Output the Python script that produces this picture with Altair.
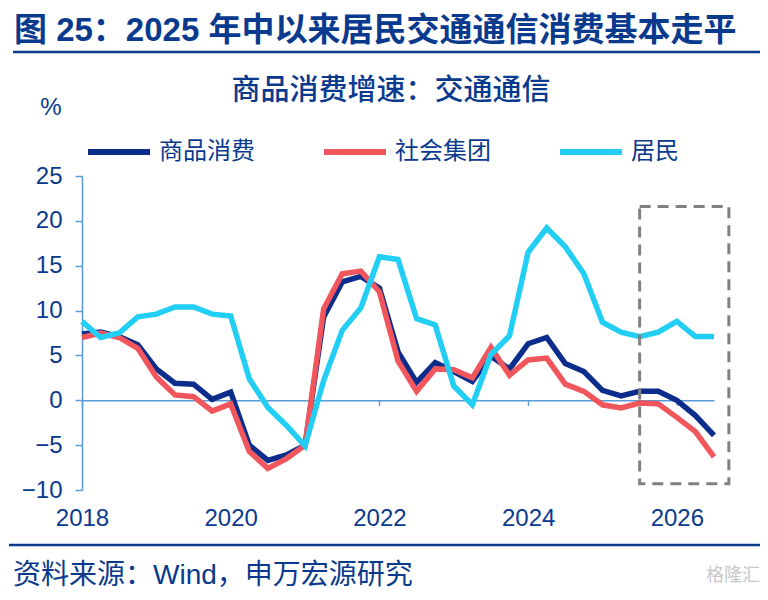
import altair as alt
import pandas as pd

# ---------------- data ----------------
periods = [
    "2018Q1", "2018Q2", "2018Q3", "2018Q4",
    "2019Q1", "2019Q2", "2019Q3", "2019Q4",
    "2020Q1", "2020Q2", "2020Q3", "2020Q4",
    "2021Q1", "2021Q2", "2021Q3", "2021Q4",
    "2022Q1", "2022Q2", "2022Q3", "2022Q4",
    "2023Q1", "2023Q2", "2023Q3", "2023Q4",
    "2024Q1", "2024Q2", "2024Q3", "2024Q4",
    "2025Q1", "2025Q2", "2025Q3", "2025Q4",
    "2026Q1", "2026Q2", "2026Q3",
]
goods = [7.4, 7.6, 7.1, 6.2, 3.5, 1.9, 1.8, 0.1, 0.9, -5.0, -6.7, -6.1, -5.0,
         9.3, 13.2, 13.8, 12.5, 5.4, 2.0, 4.2, 3.2, 2.1, 4.9, 3.5,
         6.3, 7.0, 4.1, 3.2, 1.1, 0.5, 1.0, 1.0, 0.0, -1.7, -3.9]
group = [7.0, 7.5, 7.0, 5.8, 2.6, 0.6, 0.4, -1.2, -0.4, -5.7, -7.6, -6.5, -5.0,
         10.2, 14.1, 14.4, 12.1, 4.4, 1.0, 3.5, 3.4, 2.5, 5.9, 2.8,
         4.5, 4.7, 1.8, 1.0, -0.5, -0.85, -0.3, -0.4, -1.9, -3.5, -6.3]
household = [8.8, 7.0, 7.5, 9.3, 9.6, 10.4, 10.4, 9.6, 9.4, 2.4, -0.8, -2.8, -5.1,
             2.2, 7.8, 10.3, 16.0, 15.7, 9.1, 8.4, 1.6, -0.5, 5.1, 7.2,
             16.5, 19.2, 17.1, 14.1, 8.7, 7.6, 7.1, 7.6, 8.8, 7.1, 7.1]
series_names = ["商品消费", "社会集团", "居民"]
series_colors = ["#0C2D8C", "#F0565C", "#22CEF4"]
year_ticks = [2018, 2020, 2022, 2024, 2026]
y_ticks = [-10, -5, 0, 5, 10, 15, 20, 25]
box_x = [2025.5, 2026.7]
box_y = [-9.3, 21.6]

title_text = "图 25：2025 年中以来居民交通通信消费基本走平"
subtitle_text = "商品消费增速：交通通信"
unit_text = "%"
source_text = "资料来源：Wind，申万宏源研究"
mark_text_wm = "格隆汇"

# ---------------- build table ----------------
xs = [int(p[:4]) + (int(p[5]) - 1) / 4 for p in periods]
rows = []
for name, vals in zip(series_names, [goods, group, household]):
    for x, v in zip(xs, vals):
        rows.append({"x": x, "v": v, "s": name})
df = pd.DataFrame(rows)

TEXT_C = "#0A3A8E"
AXIS_C = "#5B9BD5"
CJK = "Noto Sans CJK SC"
MIX = "Liberation Sans, Noto Sans CJK SC"

W, H = 632, 314

xscale = alt.Scale(domain=[2018, 2026.5], nice=False, zero=False)
yscale = alt.Scale(domain=[-10, 25], nice=False, zero=False)

x_enc = alt.X("x:Q", scale=xscale, axis=alt.Axis(
    values=year_ticks, format="d", title=None, grid=False, labelFlush=False,
    offset=-(H * 10 / 35), domainColor=AXIS_C, domainWidth=1.5,
    tickColor=AXIS_C, tickWidth=1.5, tickSize=5,
    labelPadding=101, labelFontSize=24, labelColor=TEXT_C,
    labelFont="Liberation Sans"))
y_enc = alt.Y("v:Q", scale=yscale, axis=alt.Axis(
    values=y_ticks, title=None, grid=False, labelFlush=False,
    domainColor=AXIS_C, domainWidth=1.5, tickColor=AXIS_C, tickWidth=1.5,
    tickSize=7, labelPadding=13, labelFontSize=24, labelColor=TEXT_C,
    labelFont="Liberation Sans"))
color_enc = alt.Color("s:N", scale=alt.Scale(domain=series_names, range=series_colors),
                      legend=alt.Legend(
                          orient="none", legendX=3, legendY=-58, direction="horizontal",
                          title=None, symbolType="stroke", symbolSize=3844,
                          symbolStrokeWidth=6, labelFontSize=24, labelFont=CJK,
                          labelColor=TEXT_C, labelOffset=6, columnPadding=57,
                          padding=0, labelLimit=300))

base = alt.Chart(df)
lines = [
    base.transform_filter(alt.datum.s == name)
    .mark_line(strokeWidth=5.5)
    .encode(x=x_enc, y=y_enc, color=color_enc)
    for name in series_names
]

box_df = pd.DataFrame({"x1": [box_x[0]], "x2": [box_x[1]], "y1": [box_y[0]], "y2": [box_y[1]]})
box = alt.Chart(box_df).mark_rect(
    fill="transparent", stroke="#808080", strokeWidth=3, strokeDash=[11, 7]
).encode(x=alt.X("x1:Q", scale=xscale), x2="x2:Q",
         y=alt.Y("y1:Q", scale=yscale), y2="y2:Q")


def text_layer(txt, x, y, size, font, weight="normal", align="left", color=TEXT_C):
    return alt.Chart(pd.DataFrame({"t": [txt]})).mark_text(
        align=align, baseline="middle", fontSize=size, font=font,
        fontWeight=weight, color=color
    ).encode(text="t:N", x=alt.value(x), y=alt.value(y))


title = text_layer(title_text, -68, -145, 33, MIX, weight="bold")
subtitle = text_layer(subtitle_text, 309, -85, 29, MIX, weight=500, align="center")
unit = text_layer(unit_text, -31, -68, 24, "Liberation Sans", align="center")
source = text_layer(source_text, -69, 400, 28, MIX)
wm = text_layer(mark_text_wm, 678, 400, 18, CJK, align="right", color="#c8c8c8")

rule_df = pd.DataFrame({"k": [0]})
top_rule = alt.Chart(rule_df).mark_rule(color=TEXT_C, strokeWidth=2.5).encode(
    x=alt.value(-69), x2=alt.value(690), y=alt.value(-124))
bottom_rule = alt.Chart(rule_df).mark_rule(color=TEXT_C, strokeWidth=2.5).encode(
    x=alt.value(-73), x2=alt.value(690), y=alt.value(369))

chart = alt.layer(
    *lines, box, title, subtitle, unit, source, wm, top_rule, bottom_rule
).properties(
    width=W, height=H,
    autosize=alt.AutoSizeParams(type="none"),
    padding={"left": 74, "top": 168, "right": 46, "bottom": 104},
    background="white",
).configure_view(strokeWidth=0)

chart.save("out.html", embed_options={"renderer": "svg", "actions": False})
